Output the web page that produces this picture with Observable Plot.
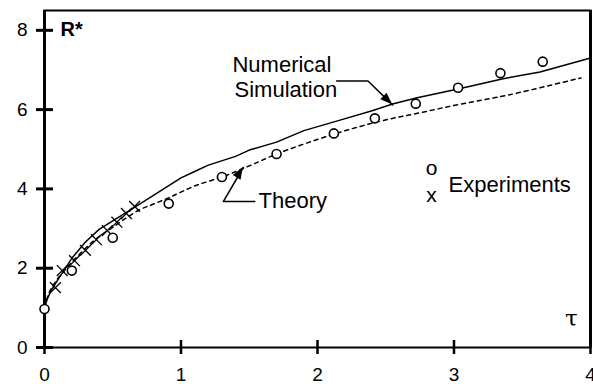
<!DOCTYPE html>
<html>
<head>
<meta charset="utf-8">
<script src="https://cdn.jsdelivr.net/npm/d3@7"></script>
<script src="https://cdn.jsdelivr.net/npm/@observablehq/plot@0.6"></script>
<style>
  html, body { margin: 0; padding: 0; background: #fff; }
  #chart svg { display: block; }
</style>
</head>
<body>
<div id="chart"></div>
<script>
// Dimensionless radius R* versus dimensionless time tau

// Numerical simulation (solid curve)
const simT = [0, 0.02, 0.05, 0.1, 0.2, 0.3, 0.4, 0.55, 0.7, 0.85, 1.0, 1.1, 1.2, 1.4, 1.5, 1.7, 1.9, 2.14, 2.4, 2.55, 2.73, 3.03, 3.36, 3.63, 4.0];
const simR = [1.0, 1.22, 1.45, 1.72, 2.25, 2.66, 2.98, 3.3, 3.62, 3.95, 4.28, 4.44, 4.6, 4.82, 4.98, 5.18, 5.47, 5.71, 5.97, 6.14, 6.3, 6.52, 6.78, 6.95, 7.3];

// Theory (dashed curve)
const theoryT = [0, 0.03, 0.06, 0.1, 0.2, 0.3, 0.4, 0.5, 0.6, 0.7, 0.8, 0.9, 1.0, 1.12, 1.3, 1.5, 1.7, 2.1, 2.45, 2.75, 3.05, 3.4, 3.93];
const theoryR = [1.0, 1.35, 1.55, 1.75, 2.15, 2.5, 2.8, 3.03, 3.27, 3.48, 3.62, 3.76, 3.92, 4.1, 4.3, 4.58, 4.88, 5.36, 5.7, 5.92, 6.14, 6.37, 6.8];

// Experiments, series "o"
const expOT = [0, 0.2, 0.5, 0.91, 1.3, 1.7, 2.12, 2.42, 2.72, 3.03, 3.34, 3.65];
const expOR = [0.97, 1.94, 2.77, 3.63, 4.3, 4.88, 5.4, 5.78, 6.15, 6.55, 6.92, 7.21];

// Experiments, series "x"
const expXT = [0.08, 0.13, 0.22, 0.30, 0.38, 0.46, 0.53, 0.60, 0.66];
const expXR = [1.51, 1.94, 2.19, 2.45, 2.72, 2.95, 3.16, 3.38, 3.56];

// Axis ticks
const xTicks = [0, 1, 2, 3, 4];
const yTicks = [0, 2, 4, 6, 8];

// Annotation texts (data coordinates, baseline anchored)
const labelText   = ["Numerical", "Simulation", "Theory", "Experiments"];
const labelT      = [1.377, 1.392, 1.568, 2.96];
const labelR      = [6.94, 6.33, 3.53, 3.91];
const legendSym   = ["o", "x"];
const legendSymT  = [2.835, 2.835];
const legendSymR  = [4.36, 3.68];

// Leader lines with arrowheads: [tau, R] polylines, last point is the tip
const leaderSim    = [[2.14, 6.72], [2.37, 6.72], [2.55, 6.12]];
const leaderTheory = [[1.54, 3.68], [1.31, 3.68], [1.456, 4.54]];

const toRows = (ts, rs) => ts.map((t, i) => ({t, r: rs[i]}));
const sim = toRows(simT, simR);
const theory = toRows(theoryT, theoryR);
const expO = toRows(expOT, expOR);
const expX = toRows(expXT, expXR);
const labels = labelText.map((s, i) => ({s, t: labelT[i], r: labelR[i]}));
const legend = legendSym.map((s, i) => ({s, t: legendSymT[i], r: legendSymR[i]}));
const leaders = [
  ...leaderSim.map(([t, r]) => ({id: "sim", t, r})),
  ...leaderTheory.map(([t, r]) => ({id: "theory", t, r}))
];

const chart = Plot.plot({
  width: 593,
  height: 384,
  marginLeft: 44,
  marginRight: 3,
  marginTop: 10,
  marginBottom: 37,
  style: {fontFamily: "'Liberation Sans', Arial, Helvetica, sans-serif", fontSize: "19px", color: "#000", background: "#fff"},
  x: {domain: [0, 4], label: null},
  y: {domain: [0, 8.5], label: null},
  marks: [
    // tick labels
    Plot.axisY({ticks: yTicks, tickSize: 0, tickPadding: 17, tickFormat: d3.format("d"), fontSize: 19, label: null}),
    Plot.axisX({ticks: xTicks, tickSize: 0, tickPadding: 20, tickFormat: d3.format("d"), fontSize: 19, label: null}),
    Plot.frame({strokeWidth: 2}),
    Plot.ruleX([0, 4], {strokeWidth: 3}),
    // tick marks crossing the axes
    Plot.ruleY(yTicks, {y: d => d, x1: 0, x2: 0, insetLeft: -8, insetRight: -9, stroke: "#000", strokeWidth: 3}),
    Plot.ruleX(xTicks, {x: d => d, y1: 0, y2: 0, insetTop: -7, insetBottom: -7, stroke: "#000", strokeWidth: 2.5}),
    Plot.line(theory, {x: "t", y: "r", stroke: "#000", strokeWidth: 1.5, strokeDasharray: "4,4", curve: "catmull-rom"}),
    Plot.line(sim, {x: "t", y: "r", stroke: "#000", strokeWidth: 1.5, curve: "linear"}),
    Plot.dot(expX, {x: "t", y: "r", symbol: "times", r: 5, stroke: "#000", strokeWidth: 1.3}),
    Plot.dot(expO, {x: "t", y: "r", symbol: "circle", r: 4.5, stroke: "#000", fill: "#fff", strokeWidth: 1.6}),
    Plot.line(leaders, {x: "t", y: "r", z: "id", stroke: "#000", strokeWidth: 1.5}),
    Plot.text(labels, {x: "t", y: "r", text: "s", textAnchor: "start", lineAnchor: "bottom", fontSize: 22, fill: "#000"}),
    Plot.text(legend, {x: "t", y: "r", text: "s", textAnchor: "middle", lineAnchor: "bottom", fontSize: 21, fill: "#000"}),
    Plot.text(["R*"], {x: 0.117, y: 7.85, text: d => d, textAnchor: "start", lineAnchor: "bottom", fontSize: 20, fontWeight: "bold", fill: "#000"}),
    Plot.text(["τ"], {x: 3.86, y: 0.55, text: d => d, textAnchor: "middle", lineAnchor: "bottom", fontSize: 23, fontFamily: "'DejaVu Serif', serif", fill: "#000"})
  ]
});

// Filled arrowheads at the end of each leader line, placed through the chart's scales
const sx = chart.scale("x"), sy = chart.scale("y");
const svg = d3.select(chart);
for (const pts of [leaderSim, leaderTheory]) {
  const [t0, r0] = pts[pts.length - 2];
  const [t1, r1] = pts[pts.length - 1];
  const x0 = sx.apply(t0), y0 = sy.apply(r0);
  const x1 = sx.apply(t1), y1 = sy.apply(r1);
  const len = Math.hypot(x1 - x0, y1 - y0);
  const ux = (x1 - x0) / len, uy = (y1 - y0) / len;
  const L = 12, W = 4.5;
  const bx = x1 - L * ux, by = y1 - L * uy;
  svg.append("polygon")
    .attr("points", [[x1, y1], [bx - W * uy, by + W * ux], [bx + W * uy, by - W * ux]].map(p => p.join(",")).join(" "))
    .attr("fill", "#000");
}

document.getElementById("chart").appendChild(chart);
</script>
</body>
</html>
